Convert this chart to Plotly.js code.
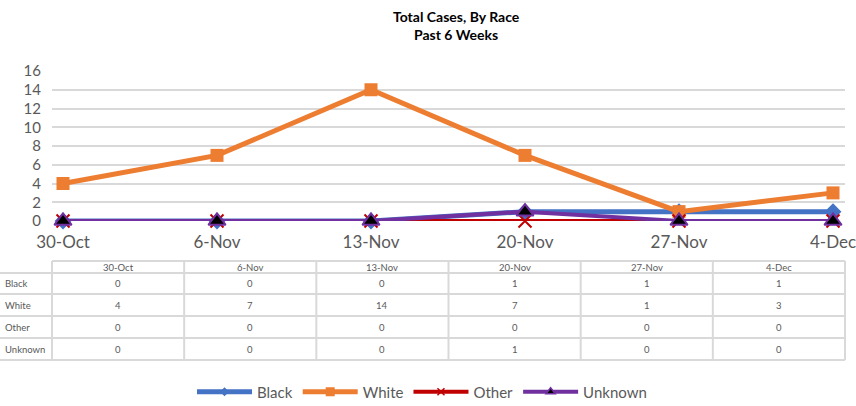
<!DOCTYPE html>
<html>
<head>
<meta charset="utf-8">
<script src="https://cdn.plot.ly/plotly-3.0.1.min.js"></script>
<style>html,body{margin:0;padding:0;background:#fff;}#chart{width:856px;height:406px;}</style>
</head>
<body>
<div id="chart"></div>
<script>
const weeks = ["30-Oct", "6-Nov", "13-Nov", "20-Nov", "27-Nov", "4-Dec"];
const black = [0, 0, 0, 1, 1, 1];
const white = [4, 7, 14, 7, 1, 3];
const other = [0, 0, 0, 0, 0, 0];
const unknown = [0, 0, 0, 1, 0, 0];
const seriesNames = ["Black", "White", "Other", "Unknown"];
const yTicks = [0, 2, 4, 6, 8, 10, 12, 14, 16];

const FONT = "Lato, 'Open Sans', sans-serif";
const GREY = "#595959";

// pixel helpers for the plot area (left 52, right 845, top 71, bottom 221)
const L = 52, R = 845, T = 71, B = 221;
const px = x => (x - L) / (R - L);
const py = y => (B - y) / (B - T);

const styles = [
  {line: {color: "#4472C4", width: 5}, marker: {symbol: "diamond", size: 13, color: "#4472C4"}, lm: {symbol: "diamond", size: 7, color: "#4472C4"}},
  {line: {color: "#ED7D31", width: 5}, marker: {symbol: "square", size: 13, color: "#ED7D31"}, lm: {symbol: "square", size: 9, color: "#ED7D31"}},
  {line: {color: "#C00000", width: 4}, marker: {symbol: "x-thin-open", size: 13, color: "#C00000", line: {color: "#C00000", width: 2}}, lm: {symbol: "x-thin-open", size: 7, color: "#C00000", line: {color: "#C00000", width: 1.5}}},
  {line: {color: "#7030A0", width: 4}, marker: {symbol: "triangle-up", size: 15, color: "#000000", line: {color: "#7030A0", width: 2}}, lm: {symbol: "triangle-up", size: 8, color: "#000000", line: {color: "#7030A0", width: 1.5}}}
];
const seriesData = [black, white, other, unknown];

const traces = [];
seriesData.forEach((d, i) => {
  traces.push({x: weeks, y: d, name: seriesNames[i], mode: "lines+markers", cliponaxis: false, showlegend: false,
    line: styles[i].line, marker: styles[i].marker});
});
// legend entries with small markers (as in the reference legend)
seriesData.forEach((d, i) => {
  traces.push({x: [weeks[0]], y: [null], name: seriesNames[i], mode: "lines+markers", showlegend: true,
    line: styles[i].line, marker: styles[i].lm});
});

// data table below the chart
const shapes = [];
const annotations = [];
const colW = (R - L) / weeks.length;
const rowLines = [273, 294, 316, 338, 360];
shapes.push({type: "line", xref: "paper", yref: "paper", x0: px(L), x1: px(R), y0: py(261), y1: py(261), line: {color: "#D9D9D9", width: 2}});
rowLines.forEach(y => shapes.push({type: "line", xref: "paper", yref: "paper", x0: px(0), x1: px(R), y0: py(y), y1: py(y), line: {color: "#D9D9D9", width: 2}}));
for (let i = 0; i <= weeks.length; i++) {
  const x = L + i * colW;
  shapes.push({type: "line", xref: "paper", yref: "paper", x0: px(x), x1: px(x), y0: py(261), y1: py(360), line: {color: "#D9D9D9", width: 2}});
}
weeks.forEach((w, i) => {
  annotations.push({xref: "paper", yref: "paper", x: px(L + (i + 0.5) * colW), y: py(267), text: w, showarrow: false,
    xanchor: "center", yanchor: "middle", font: {family: FONT, size: 9.5, color: GREY}});
});
seriesNames.forEach((n, r) => {
  const yc = (rowLines[r] + rowLines[r + 1]) / 2;
  annotations.push({xref: "paper", yref: "paper", x: px(3), y: py(yc), text: n, showarrow: false,
    xanchor: "left", yanchor: "middle", font: {family: FONT, size: 9.5, color: GREY}});
  seriesData[r].forEach((v, i) => {
    annotations.push({xref: "paper", yref: "paper", x: px(L + (i + 0.5) * colW), y: py(yc), text: String(v), showarrow: false,
      xanchor: "center", yanchor: "middle", font: {family: FONT, size: 9.5, color: GREY}});
  });
});
// title
annotations.push({xref: "paper", yref: "paper", x: px(456), y: py(26), text: "<b>Total Cases, By Race</b><br><b>Past 6 Weeks</b>",
  showarrow: false, xanchor: "center", yanchor: "middle", font: {family: FONT, size: 14, color: "#000"}});

const step = 154;
const layout = {
  width: 856, height: 406,
  margin: {l: L, r: 856 - R, t: T, b: 406 - B, pad: 0, autoexpand: false},
  paper_bgcolor: "#fff", plot_bgcolor: "#fff",
  showlegend: true,
  legend: {orientation: "h", x: px(422), xanchor: "center", y: py(392), yanchor: "middle",
    font: {family: FONT, size: 15, color: GREY}, itemwidth: 55, traceorder: "normal"},
  xaxis: {type: "category", range: [-(63 - L) / step, 5 + (R - 833) / step], showgrid: false, zeroline: false, automargin: false,
    showline: false, ticks: "", tickfont: {family: FONT, size: 17, color: GREY}, ticklabelstandoff: 9, fixedrange: true},
  yaxis: {range: [0, 16], tickvals: yTicks, showgrid: true, gridcolor: "#D9D9D9", gridwidth: 2, zeroline: false, automargin: false,
    showline: false, ticks: "", tickfont: {family: FONT, size: 15, color: GREY}, ticklabelstandoff: 10, fixedrange: true},
  shapes: shapes,
  annotations: annotations
};

Plotly.newPlot("chart", traces, layout, {displayModeBar: false, staticPlot: true});
</script>
</body>
</html>
